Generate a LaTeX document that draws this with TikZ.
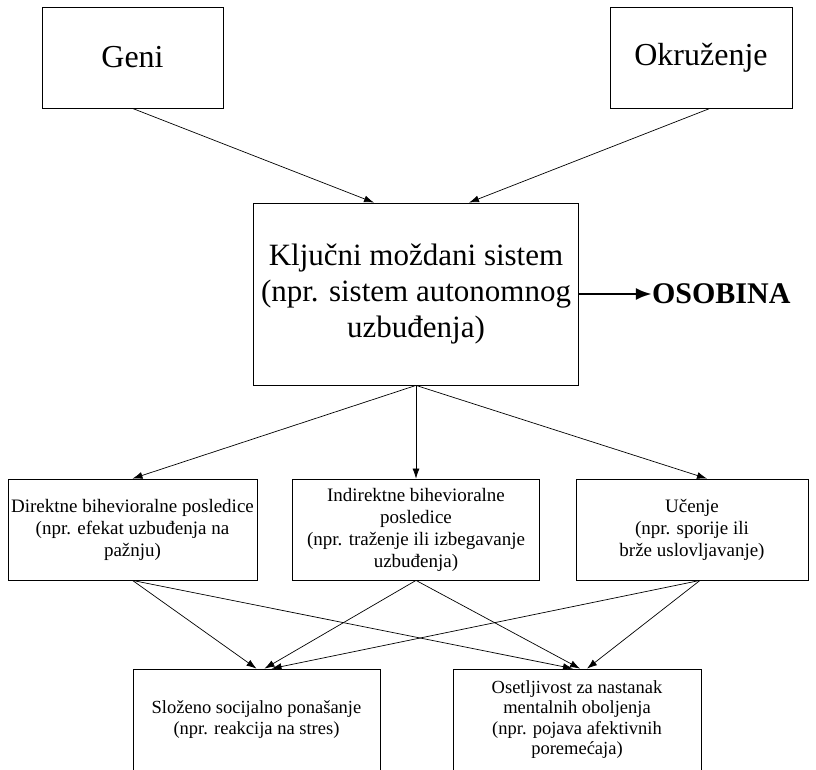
\documentclass[tikz,border=0pt]{standalone}
\usepackage{fontspec}
\setmainfont{Liberation Serif}
\usetikzlibrary{positioning, arrows.meta}

\begin{document}
\begin{tikzpicture}[x=1pt, y=-1pt,
	box/.style={draw, line width=0.8pt, inner sep=0pt, align=center},
	topbox/.style={box, minimum width=181pt, minimum height=101pt, font=\fontsize{32}{36}\selectfont},
	midbox/.style={box, minimum height=101pt, font=\fontsize{19}{22}\selectfont},
	lowbox/.style={box, minimum width=247pt, minimum height=101pt, font=\fontsize{18.5}{20.5}\selectfont},
	link/.style={-{Latex[length=10pt, width=7pt]}, line width=0.7pt}]
	\useasboundingbox (0,0) rectangle (816,769);
	% causes
	\node[topbox] (geni) at (132.5,57.5) {\raisebox{-4pt}{Geni}};
	\node[topbox, minimum width=182pt] (okruzenje) at (701,57.5) {Okruženje};
	% brain system and trait
	\node[box, minimum width=325pt, minimum height=182pt, font=\fontsize{31}{36}\selectfont] (sistem) at (416,294)
		{Ključni moždani sistem\\(npr. sistem autonomnog\\uzbuđenja)};
	\node[font=\bfseries\fontsize{30}{34}\selectfont, inner sep=0pt, right=73pt of sistem] (osobina) {OSOBINA};
	% consequences
	\node[midbox, minimum width=249pt] (direktne) at (132.5,529.5)
		{Direktne bihevioralne posledice\\(npr. efekat uzbuđenja na\\pažnju)};
	\node[midbox, minimum width=247pt] (indirektne) at (416,529.5)
		{Indirektne bihevioralne\\posledice\\(npr. traženje ili izbegavanje\\uzbuđenja)};
	\node[midbox, minimum width=232pt] (ucenje) at (692,529.5)
		{Učenje\\(npr. sporije ili\\brže uslovljavanje)};
	% outcomes
	\node[lowbox] (slozeno) at (256.5,719.5)
		{Složeno socijalno ponašanje\\(npr. reakcija na stres)};
	\node[lowbox, minimum width=248pt] (osetljivost) at (577,719.5)
		{Osetljivost za nastanak\\mentalnih oboljenja\\(npr. pojava afektivnih\\poremećaja)};

	\draw[link] (geni.south) -- ([xshift=-42pt]sistem.north);
	\draw[link] ([xshift=9pt]okruzenje.south) -- ([xshift=53pt]sistem.north);
	\draw[-{Latex[length=16pt, width=12pt]}, line width=2.8pt] (sistem.east) -- (osobina.west);
	\draw[link] (sistem.south) -- (direktne.north);
	\draw[link] (sistem.south) -- (indirektne.north);
	\draw[link] (sistem.south) -- ([xshift=15pt]ucenje.north);
	\draw[link] (direktne.south) -- (slozeno.north);
	\draw[link] (direktne.south) -- ([xshift=-4pt]osetljivost.north);
	\draw[link] (indirektne.south) -- ([xshift=8pt]slozeno.north);
	\draw[link] (indirektne.south) -- ([xshift=3pt]osetljivost.north);
	\draw[link] ([xshift=8pt]ucenje.south) -- ([xshift=15pt]slozeno.north);
	\draw[link] ([xshift=8pt]ucenje.south) -- ([xshift=10pt]osetljivost.north);
\end{tikzpicture}
\end{document}
